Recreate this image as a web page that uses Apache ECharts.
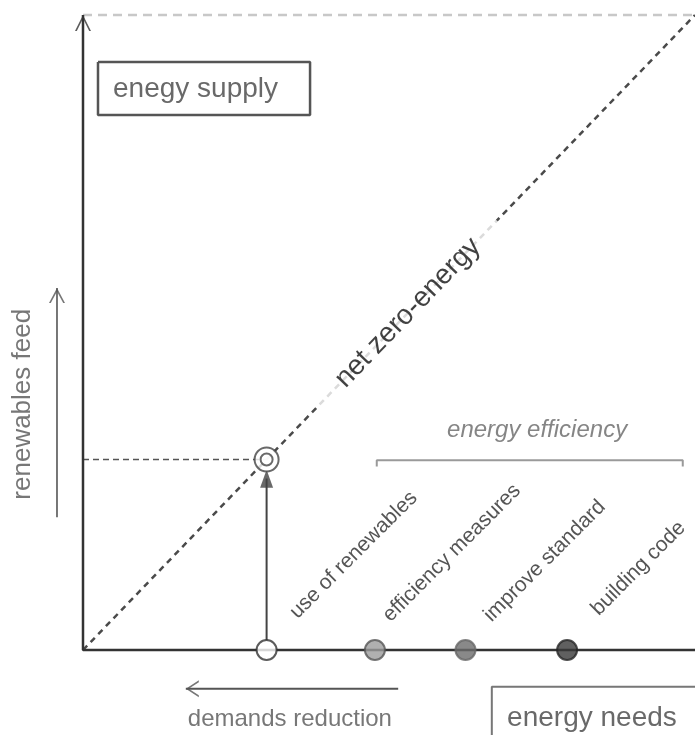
<!DOCTYPE html>
<html>
<head>
<meta charset="utf-8">
<script src="https://cdn.jsdelivr.net/npm/echarts@6/dist/echarts.min.js"></script>
<style>
  html, body { margin: 0; padding: 0; background: #fff; }
  #chart { width: 695px; height: 735px; }
</style>
</head>
<body>
<div id="chart"></div>
<script>
// measures along the "energy needs" axis
const measures = ['use of renewables', 'efficiency measures', 'improve standard', 'building code'];
const measureX = [30, 47.7, 62.5, 79.1];
const measureFill = ['#ffffff', '#9c9c9c', '#6b6b6b', '#383838'];
const measureBorder = ['#333333', '#555555', '#666666', '#262626'];
// where each rotated label starts
const labelX = [35.6, 50.8, 67.3, 84.8];
const labelY = [4.3, 3.8, 3.8, 4.8];

// net zero-energy balance line and the target point on it
const zeroLine = [[0, 0], [100, 100]];
const target = [30, 30];

// annotation shapes (data units)
const topLine = [[0, 100], [100, 100]];
const axesLine = [[0, 100], [0, 0], [101, 0]];
const efficiencyBracket = [[48, 28.9], [48, 29.9], [98, 29.9], [98, 28.9]];
const supplyBox = [[2.45, 92.6], [37.1, 92.6], [37.1, 84.25], [2.45, 84.25], [2.45, 92.6]];
const needsBox = [[66.8, -16], [66.8, -5.8], [106, -5.8]];
const feedArrow = [[-4.25, 20.9], [-4.25, 57.0]];
const demandArrow = [[51.5, -6.1], [16.8, -6.1]];

const FONT = "'Liberation Sans', Arial, sans-serif";
const chevron = 'path://M0,16L8,0L16,16L14.2,16L8,3.6L1.8,16Z';

const chart = echarts.init(document.getElementById('chart'));

function line(data, color, width, type, z) {
    return {
        type: 'line', data: data, symbol: 'none', silent: true, z: z || 2,
        lineStyle: { color: color, width: width, type: type || 'solid' }
    };
}

function text(pos, str, style) {
    return {
        type: 'scatter', data: [pos], symbolSize: 0, silent: true, z: style.z || 5,
        label: Object.assign({
            show: true, position: 'inside', formatter: str,
            fontFamily: FONT, color: '#444'
        }, style)
    };
}

const measureSeries = {
    type: 'scatter', z: 6, silent: true, symbolSize: 20,
    data: measureX.map((x, i) => ({
        value: [x, 0],
        itemStyle: { color: measureFill[i], borderColor: measureBorder[i], borderWidth: 2 }
    }))
};

const labelSeries = measures.map((m, i) => text([labelX[i], labelY[i]], m, {
    align: 'left', verticalAlign: 'bottom', rotate: 45, fontSize: 21, color: '#2a2a2a'
}));

const option = {
    animation: false,
    grid: { left: 0, right: 0, top: 0, bottom: 0 },
    xAxis: { type: 'value', min: -13.562, max: 100, show: false },
    yAxis: { type: 'value', min: -13.386, max: 102.362, show: false },
    series: [
        line(topLine, '#c8c8c8', 2.5, [9, 6], 1),
        line(zeroLine, '#4a4a4a', 2.5, [6, 5], 2),
        line([[0, target[1]], target], '#555', 1.6, [6, 4], 2),
        line(axesLine, '#333', 2.5, 'solid', 3),
        line([[target[0], 1.4], [target[0], 27]], '#444', 2, 'solid', 3),
        line(efficiencyBracket, '#9a9a9a', 2, 'solid', 3),
        line(supplyBox, '#555', 2.5, 'solid', 3),
        line(needsBox, '#777', 2, 'solid', 3),
        line(feedArrow, '#555', 1.6, 'solid', 3),
        line(demandArrow, '#555', 1.8, 'solid', 3),
        // arrow heads
        {
            type: 'scatter', silent: true, z: 4,
            itemStyle: { color: '#333' },
            data: [
                { value: [0, 100], symbol: chevron, symbolSize: [16, 16], symbolOffset: [0, 8] },
                { value: [101, 0], symbol: chevron, symbolSize: [16, 14], symbolRotate: -90, symbolOffset: [-7, 0] },
                { value: feedArrow[1], symbol: chevron, symbolSize: [16, 15], symbolOffset: [0, 7.5], itemStyle: { color: '#555' } },
                { value: demandArrow[1], symbol: chevron, symbolSize: [17, 13], symbolRotate: 90, symbolOffset: [6.5, 0], itemStyle: { color: '#555' } },
                { value: [target[0], 28.4], symbol: 'triangle', symbolSize: [13, 18], symbolOffset: [0, 9], itemStyle: { color: '#444' } }
            ]
        },
        measureSeries,
        // target point: double ring
        {
            type: 'scatter', silent: true, z: 6,
            data: [
                { value: target, symbolSize: 24, itemStyle: { color: '#fff', borderColor: '#444', borderWidth: 2 } },
                { value: target, symbolSize: 12, itemStyle: { color: '#fff', borderColor: '#444', borderWidth: 2 } }
            ]
        },
        text([53.1, 53.1], 'net zero-energy', {
            rotate: 46, fontSize: 28, color: '#111', backgroundColor: '#fff',
            padding: [6, 30], align: 'center', verticalAlign: 'middle'
        }),
        text([4.9, 88.3], 'enegy supply', { align: 'left', verticalAlign: 'middle', fontSize: 28 }),
        text([69.3, -10.7], 'energy needs', { align: 'left', verticalAlign: 'middle', fontSize: 28 }),
        text([33.8, -10.9], 'demands reduction', { align: 'center', verticalAlign: 'middle', fontSize: 24, color: '#555' }),
        text([-9.8, 38.7], 'renewables feed', { align: 'center', verticalAlign: 'middle', rotate: 90, fontSize: 26, color: '#555' }),
        text([74.2, 34.6], 'energy efficiency', { align: 'center', verticalAlign: 'middle', fontSize: 24, fontStyle: 'italic', color: '#666' })
    ].concat(labelSeries)
};

chart.setOption(option);
</script>
</body>
</html>
